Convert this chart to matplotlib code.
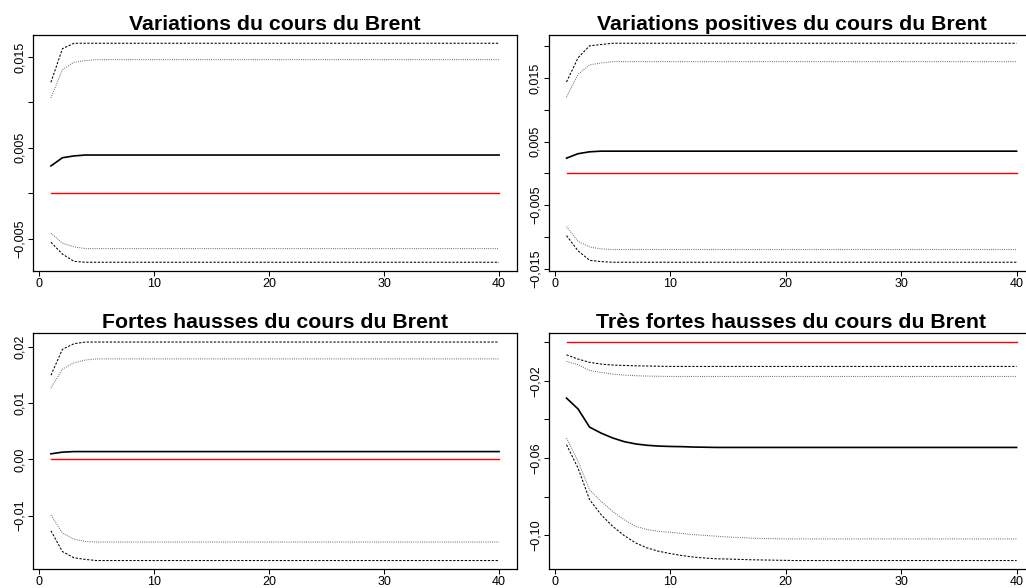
import numpy as np
import matplotlib.pyplot as plt

# horizons 1..40
horizon = np.arange(1, 41)


def fill(vals, plateau):
    # curves settle on a flat level from some horizon on
    return vals + [plateau] * (40 - len(vals))


titles = ["Variations du cours du Brent",
          "Variations positives du cours du Brent",
          "Fortes hausses du cours du Brent",
          "Très fortes hausses du cours du Brent"]

# --- panel 1
p1_up_dash = fill([0.0122, 0.0159, 0.0165], 0.0165)
p1_up_dot = fill([0.0105, 0.0136, 0.0144, 0.0146], 0.0147)
p1_irf = fill([0.0030, 0.0039, 0.0041], 0.0042)
p1_lo_dot = fill([-0.0044, -0.0055, -0.0059, -0.0061], -0.0061)
p1_lo_dash = fill([-0.0054, -0.0067, -0.0075], -0.0076)

# --- panel 2
p2_up_dash = fill([0.0144, 0.0182, 0.0201, 0.0203], 0.0205)
p2_up_dot = fill([0.0120, 0.0156, 0.0171, 0.0174], 0.0176)
p2_irf = fill([0.0024, 0.0031, 0.0034], 0.0035)
p2_lo_dot = fill([-0.0084, -0.0107, -0.0116, -0.0119], -0.0120)
p2_lo_dash = fill([-0.0098, -0.0122, -0.0137, -0.0139], -0.0140)

# --- panel 3
p3_up_dash = fill([0.0150, 0.0196, 0.0206], 0.0209)
p3_up_dot = fill([0.0127, 0.0161, 0.0172, 0.0177], 0.0179)
p3_irf = fill([0.0010, 0.0013], 0.0014)
p3_lo_dot = fill([-0.0099, -0.0131, -0.0142, -0.0146], -0.0147)
p3_lo_dash = fill([-0.0127, -0.0164, -0.0175, -0.0178], -0.0180)

# --- panel 4
p4_up_dash = fill([-0.0066, -0.0088, -0.0105, -0.0114, -0.0119, -0.0121,
                   -0.0123, -0.0124, -0.0125], -0.0126)
p4_up_dot = fill([-0.0100, -0.0117, -0.0147, -0.0157, -0.0166, -0.0171,
                  -0.0174, -0.0176, -0.0177], -0.0178)
p4_irf = fill([-0.0290, -0.0346, -0.0440, -0.0471, -0.0496, -0.0515, -0.0527,
               -0.0534, -0.0538, -0.0540, -0.0541, -0.0543, -0.0544], -0.0545)
p4_lo_dot = fill([-0.0496, -0.0617, -0.0764, -0.0824, -0.0876, -0.0919, -0.0953,
                  -0.0970, -0.0979, -0.0984, -0.0990, -0.0996, -0.1000, -0.1004,
                  -0.1008, -0.1011, -0.1014, -0.1016, -0.1017], -0.1018)
p4_lo_dash = fill([-0.0531, -0.0652, -0.0815, -0.0893, -0.0953, -0.1001, -0.1039,
                   -0.1065, -0.1082, -0.1094, -0.1104, -0.1112, -0.1117, -0.1121,
                   -0.1122, -0.1124, -0.1126, -0.1127, -0.1128, -0.1129], -0.1130)

zero = [0.0] * 40

panels = [
    (p1_up_dash, p1_up_dot, p1_irf, p1_lo_dot, p1_lo_dash),
    (p2_up_dash, p2_up_dot, p2_irf, p2_lo_dot, p2_lo_dash),
    (p3_up_dash, p3_up_dot, p3_irf, p3_lo_dot, p3_lo_dash),
    (p4_up_dash, p4_up_dot, p4_irf, p4_lo_dot, p4_lo_dash),
]

yticks = [
    [-0.005, 0.0, 0.005, 0.010, 0.015],
    [-0.015, -0.010, -0.005, 0.0, 0.005, 0.010, 0.015, 0.020],
    [-0.01, 0.0, 0.01, 0.02],
    [-0.10, -0.08, -0.06, -0.04, -0.02, 0.0],
]
ylabels = [
    ["\u22120,005", "", "0,005", "", "0,015"],
    ["\u22120,015", "", "\u22120,005", "", "0,005", "", "0,015", ""],
    ["\u22120,01", "0,00", "0,01", "0,02"],
    ["\u22120,10", "", "\u22120,06", "", "\u22120,02", ""],
]
xticks = [0, 10, 20, 30, 40]

plt.rcParams['font.family'] = ['Liberation Sans', 'DejaVu Sans']
fig = plt.figure(figsize=(10.26, 5.88), dpi=100)
W, H = 1026, 588
# plot boxes in pixels: left, top, right, bottom (right column runs off the image)
boxes = [(33, 34.5, 517, 271), (548.5, 34.5, 1034.6, 271),
         (33, 333.3, 517, 569.3), (548.5, 333.3, 1034.6, 569.3)]

for i, (up_dash, up_dot, irf, lo_dot, lo_dash) in enumerate(panels):
    l, t, r, b = boxes[i]
    ax = fig.add_axes([l / W, 1 - b / H, (r - l) / W, (b - t) / H])
    ax.plot(horizon, up_dash, color='black', lw=0.75, dashes=(2.2, 1.5))
    ax.plot(horizon, lo_dash, color='black', lw=0.75, dashes=(2.2, 1.5))
    ax.plot(horizon, up_dot, color='#555555', lw=0.75, dashes=(0.8, 1.3))
    ax.plot(horizon, lo_dot, color='#555555', lw=0.75, dashes=(0.8, 1.3))
    ax.plot(horizon, irf, color='black', lw=1.2)
    ax.plot(horizon, zero, color='#ff0000', lw=1.0, zorder=3)
    ax.margins(0.04)
    ax.autoscale_view()
    ax.set_xticks(xticks)
    ax.set_yticks(yticks[i], ylabels[i])
    for lab in ax.get_yticklabels():
        lab.set_rotation(90)
        lab.set_va('center')
    ax.tick_params(direction='out', length=3.6, width=0.75, labelsize=9,
                   pad=1.5, colors='black')
    for s in ax.spines.values():
        s.set_linewidth(0.9)
    ax.set_title(titles[i], fontsize=15.3, fontweight='bold', pad=3.5)

fig.savefig("out.png", dpi=100)
